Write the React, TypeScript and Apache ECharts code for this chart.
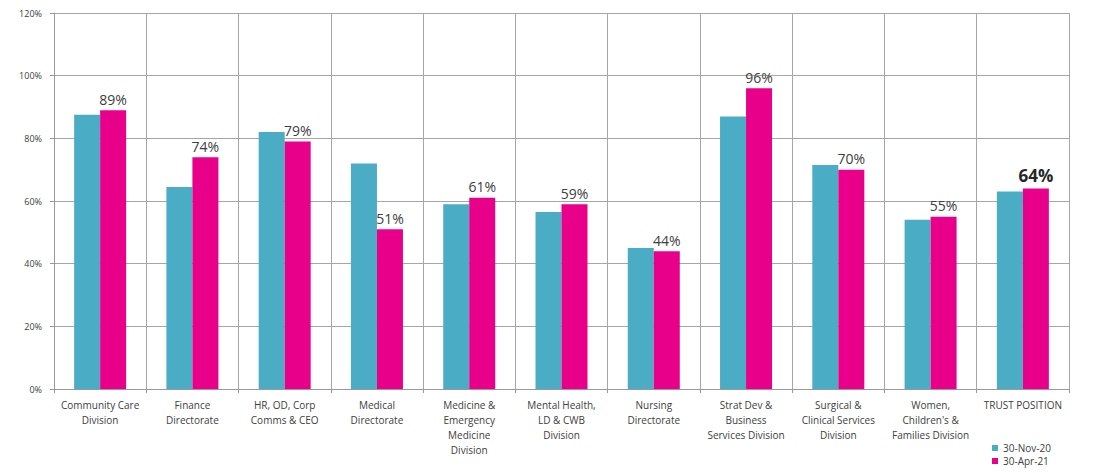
import React, { useEffect, useRef } from "react";
import * as echarts from "echarts";

const categories = [
  "Community Care\nDivision",
  "Finance\nDirectorate",
  "HR, OD, Corp\nComms & CEO",
  "Medical\nDirectorate",
  "Medicine &\nEmergency\nMedicine\nDivision",
  "Mental Health,\nLD & CWB\nDivision",
  "Nursing\nDirectorate",
  "Strat Dev &\nBusiness\nServices Division",
  "Surgical &\nClinical Services\nDivision",
  "Women,\nChildren's &\nFamilies Division",
  "TRUST POSITION",
];
const nov20 = [87.5, 64.5, 82, 72, 59, 56.5, 45, 87, 71.5, 54, 63];
const apr21 = [89, 74, 79, 51, 61, 59, 44, 96, 70, 55, 64];
const seriesNames = ["30-Nov-20", "30-Apr-21"];
const yTicks = [0, 20, 40, 60, 80, 100, 120];

export default function App() {
  const ref = useRef<HTMLDivElement>(null);
  useEffect(() => {
    document.body.style.margin = "0";
    const chart = echarts.init(ref.current!, null, { renderer: "svg" });
    const font = "'Open Sans', 'Liberation Sans', sans-serif";
    chart.setOption({
      animation: false,
      backgroundColor: "#ffffff",
      textStyle: { fontFamily: font },
      grid: { left: 54, right: 44, top: 13, bottom: 84 },
      legend: {
        orient: "vertical",
        left: 992,
        top: 443,
        padding: 0,
        itemWidth: 6,
        itemHeight: 6,
        itemGap: 3,
        icon: "rect",
        textStyle: { fontSize: 10, color: "#404040", fontFamily: font },
        data: seriesNames,
      },
      xAxis: {
        type: "category",
        data: categories,
        axisLine: { show: true, lineStyle: { color: "#999999" } },
        axisTick: { show: true, length: 4, lineStyle: { color: "#999999" } },
        splitLine: { show: true, lineStyle: { color: "#a6a6a6", width: 1 } },
        axisLabel: {
          interval: 0,
          fontSize: 10,
          color: "#404040",
          lineHeight: 15,
          margin: 8,
          fontFamily: font,
        },
      },
      yAxis: {
        type: "value",
        min: yTicks[0],
        max: yTicks[yTicks.length - 1],
        interval: 20,
        axisLine: { show: true, lineStyle: { color: "#999999" } },
        axisTick: { show: true, length: 4, lineStyle: { color: "#999999" } },
        splitLine: { show: true, lineStyle: { color: "#a6a6a6", width: 1 } },
        axisLabel: {
          formatter: "{value}%",
          fontSize: 9,
          color: "#404040",
          margin: 12,
          fontFamily: font,
        },
      },
      series: [
        {
          name: seriesNames[0],
          type: "bar",
          data: nov20,
          barWidth: 26,
          barGap: "0%",
          itemStyle: { color: "#4bacc6" },
        },
        {
          name: seriesNames[1],
          type: "bar",
          data: apr21.map((v, i) =>
            i === apr21.length - 1
              ? {
                  value: v,
                  label: { fontSize: 17, fontWeight: "bold", color: "#262626" },
                }
              : v
          ),
          barWidth: 26,
          barGap: "0%",
          itemStyle: { color: "#e8008a" },
          label: {
            show: true,
            position: "top",
            formatter: "{c}%",
            fontSize: 14,
            color: "#404040",
            distance: 4,
            fontFamily: font,
          },
        },
      ],
    });
    return () => chart.dispose();
  }, []);
  return (
    <div
      ref={ref}
      style={{ width: 1113, height: 473, position: "absolute", left: 0, top: 0 }}
    />
  );
}
